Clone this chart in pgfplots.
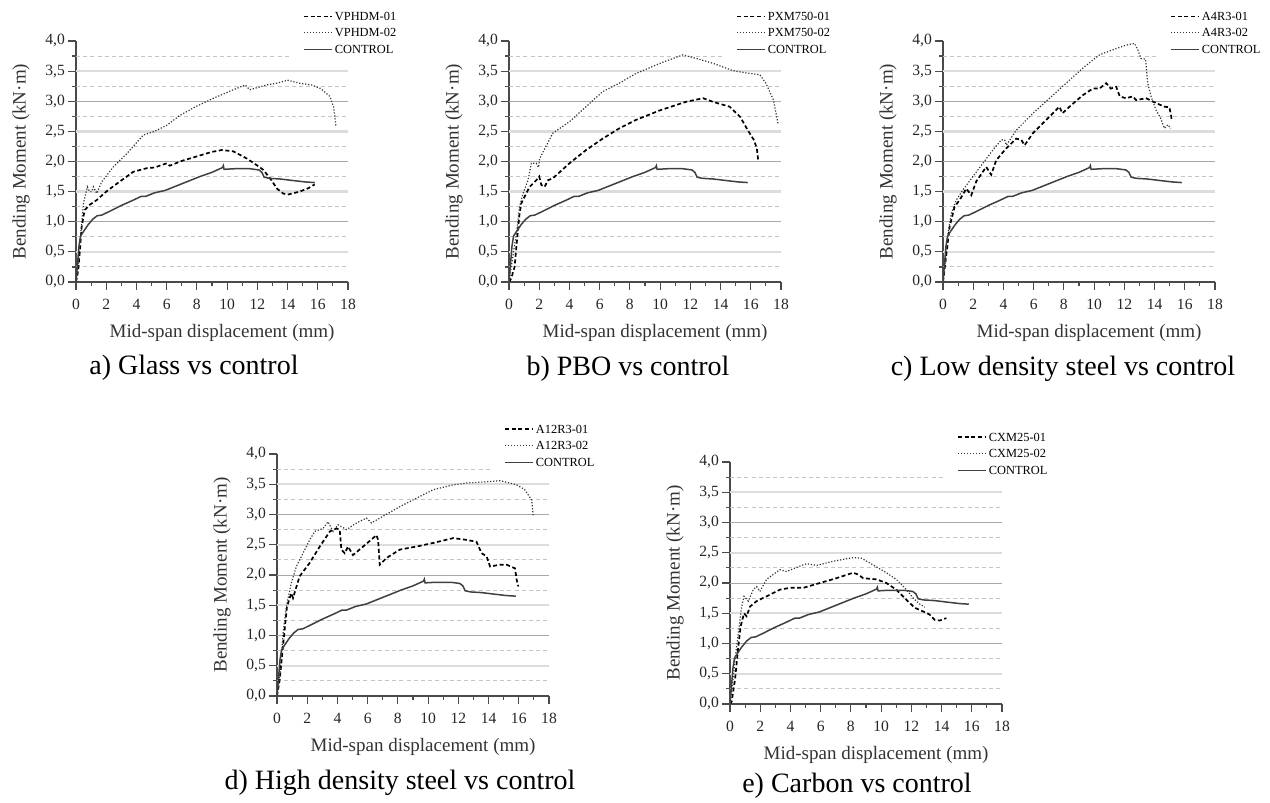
\documentclass[border=0pt]{standalone}
\usepackage{fontspec}
\setmainfont{Liberation Serif}
\usepackage{pgfplots}
\usepackage{pgfplotstable}
\pgfplotsset{compat=1.18}

\definecolor{axisgray}{HTML}{4A4A4A}
\definecolor{gridlight}{HTML}{DCDCDC}
\definecolor{griddark}{HTML}{A8A8A8}
\definecolor{griddash}{HTML}{C4C4C4}

% control beam, same curve in every panel
\pgfplotstableread{
x y
0 0
0.1 0.3
0.2 0.6
0.3 0.76
0.5 0.84
0.8 0.95
1.1 1.04
1.4 1.1
1.7 1.11
2.2 1.17
3.0 1.27
3.8 1.36
4.3 1.42
4.6 1.42
5.2 1.48
5.9 1.52
6.5 1.58
7.3 1.66
8.2 1.75
9.0 1.82
9.7 1.90
9.75 1.93
9.8 1.87
10.5 1.88
11.5 1.88
12.1 1.86
12.3 1.82
12.45 1.74
12.8 1.72
13.5 1.71
14.5 1.68
15.2 1.66
15.8 1.65
}\controldata

\newcommand{\panelgrid}{%
  \pgfplotsinvokeforeach{0.25,0.75,1.25,1.75,2.25,2.75,3.25}{%
    \draw[griddash, line width=0.5pt, dash pattern=on 2pt off 1.6pt] (axis cs:0,##1) -- (axis cs:18,##1);}%
  \draw[griddash, line width=0.5pt, dash pattern=on 2pt off 1.6pt] (axis cs:0,3.75) -- (axis cs:14.2,3.75);%
  \pgfplotsinvokeforeach{0.5,1.5,2.5,3.5}{%
    \draw[gridlight, line width=1.2pt] (axis cs:0,##1) -- (axis cs:18,##1);}%
  \pgfplotsinvokeforeach{1,2,3}{%
    \draw[griddark, line width=0.5pt] (axis cs:0,##1) -- (axis cs:18,##1);}%
}

\pgfplotsset{
  panel/.style={
    scale only axis, width=136pt, height=120.5pt,
    xmin=0, xmax=18, ymin=0, ymax=4,
    axis lines*=left,
    axis line style={axisgray, line width=0.6pt},
    xtick={0,2,4,6,8,10,12,14,16,18}, minor x tick num=1,
    ytick={0,0.5,1,1.5,2,2.5,3,3.5,4}, minor y tick num=1,
    tick align=outside, major tick length=4pt, minor tick length=2pt,
    tick style={axisgray, line width=0.6pt},
    /pgf/number format/assume math mode=true,
    yticklabel style={/pgf/number format/use comma, /pgf/number format/fixed,
      /pgf/number format/fixed zerofill, /pgf/number format/precision=1, xshift=2pt},
    tick label style={font=\fontsize{7.8}{8}\selectfont, black!85},
    xticklabel style={yshift=-1pt},
    label style={font=\fontsize{9.5}{11}\selectfont, black!80},
    xlabel={Mid-span displacement (mm)},
    ylabel={Bending Moment (kN·m)},
    xlabel style={at={(axis description cs:0.537,-0.21)}, anchor=center},
    ylabel style={at={(axis description cs:-0.202,0.5)}, anchor=center},
    legend style={at={(axis description cs:0.834,1.138)}, anchor=north west,
      draw=none, fill=none, font=\fontsize{6.2}{7}\selectfont,
      row sep=0pt, inner sep=0pt,
      nodes={inner sep=0.5pt, text height=5.5pt, text depth=1.75pt},
      /tikz/every odd column/.append style={column sep=0.5pt}},
    legend cell align=left,
    legend image code/.code={\draw[##1] (0pt,0pt) -- (14pt,0pt);},
  },
  s1/.style={black, line width=0.85pt, dash pattern=on 2pt off 1.3pt},
  s2/.style={black!80, line width=0.6pt, dash pattern=on 0.6pt off 0.9pt},
  sc/.style={black!75, line width=0.75pt},
}

\begin{document}
\begin{tikzpicture}
\useasboundingbox (0pt,0pt) rectangle (635pt,401.5pt);

% a) glass
\begin{axis}[panel, at={(38pt,260.5pt)}, anchor=south west]
\panelgrid
\addplot[s1] coordinates {(0,0)(0.15,0.2)(0.25,0.5)(0.37,0.9)(0.5,1.1)(0.6,1.2)(0.9,1.28)(1.37,1.36)(2.0,1.5)(2.8,1.65)(3.8,1.83)(4.7,1.89)(5.2,1.9)(6.0,1.97)(6.2,1.93)(7.0,2.01)(8.2,2.1)(9.0,2.16)(9.65,2.19)(10.4,2.17)(11.3,2.05)(11.9,1.95)(12.4,1.86)(12.9,1.7)(13.3,1.55)(13.7,1.47)(14.0,1.45)(14.8,1.5)(15.4,1.56)(15.8,1.62)};
\addplot[s2] coordinates {(0,0)(0.15,0.3)(0.3,0.75)(0.49,1.3)(0.75,1.58)(0.9,1.5)(1.04,1.5)(1.15,1.58)(1.37,1.47)(1.7,1.66)(2.47,1.91)(3.36,2.13)(4.46,2.44)(5.2,2.5)(6.0,2.6)(6.9,2.77)(8.0,2.92)(9.1,3.05)(10.4,3.19)(11.2,3.27)(11.5,3.19)(12.6,3.27)(13.3,3.3)(14.0,3.35)(14.8,3.3)(15.6,3.27)(16.2,3.21)(16.8,3.08)(17.05,2.9)(17.15,2.7)(17.2,2.58)};
\addplot[sc] table {\controldata};
\legend{VPHDM-01,VPHDM-02,CONTROL}
\end{axis}

% b) PBO
\begin{axis}[panel, at={(254.5pt,260.5pt)}, anchor=south west]
\panelgrid
\addplot[s1] coordinates {(0,0)(0.15,0.06)(0.37,0.25)(0.53,0.7)(0.7,1.14)(0.82,1.31)(1.04,1.42)(1.37,1.58)(1.81,1.69)(2.0,1.75)(2.14,1.61)(2.36,1.58)(2.58,1.69)(2.9,1.72)(4.0,1.97)(5.1,2.19)(6.2,2.38)(7.3,2.55)(8.4,2.69)(10.0,2.85)(11.7,2.99)(12.85,3.05)(13.5,2.99)(14.6,2.91)(15.3,2.74)(15.8,2.52)(16.2,2.36)(16.4,2.22)(16.5,2.0)};
\addplot[s2] coordinates {(0,0)(0.15,0.25)(0.3,0.5)(0.49,0.8)(0.7,1.25)(0.93,1.47)(1.26,1.69)(1.48,1.97)(1.81,1.97)(1.95,1.9)(2.03,2.05)(2.9,2.47)(4.0,2.66)(5.1,2.91)(6.2,3.16)(7.3,3.3)(8.4,3.46)(10.0,3.63)(11.5,3.77)(12.4,3.71)(13.5,3.63)(14.8,3.51)(15.7,3.47)(16.6,3.44)(17.0,3.3)(17.5,3.02)(17.8,2.63)};
\addplot[sc] table {\controldata};
\legend{PXM750-01,PXM750-02,CONTROL}
\end{axis}

% c) low density steel
\begin{axis}[panel, at={(471.5pt,260.5pt)}, anchor=south west]
\panelgrid
\addplot[s1] coordinates {(0,0)(0.18,0.37)(0.44,0.92)(0.77,1.25)(1.1,1.36)(1.54,1.55)(1.87,1.44)(2.2,1.67)(2.86,1.91)(3.19,1.78)(3.52,2.02)(4.19,2.22)(4.85,2.38)(5.18,2.36)(5.4,2.27)(5.95,2.47)(6.83,2.69)(7.7,2.91)(7.9,2.8)(8.37,2.91)(9.25,3.1)(9.91,3.21)(10.35,3.21)(10.8,3.3)(11.1,3.21)(11.46,3.24)(11.7,3.08)(12.1,3.05)(12.56,3.08)(12.78,3.02)(13.44,3.05)(14.1,2.97)(14.65,2.91)(14.98,2.9)(15.09,2.77)(15.13,2.69)};
\addplot[s2] coordinates {(0,0)(0.11,0.25)(0.33,0.81)(0.55,1.14)(0.88,1.36)(1.32,1.53)(1.98,1.75)(2.64,1.97)(3.3,2.19)(3.86,2.36)(4.08,2.36)(4.19,2.27)(4.85,2.52)(5.95,2.8)(7.05,3.05)(8.15,3.3)(9.25,3.55)(10.35,3.77)(11.2,3.85)(12.1,3.93)(12.67,3.96)(12.9,3.85)(13.1,3.71)(13.4,3.7)(13.55,3.3)(13.77,3.08)(14.1,2.85)(14.4,2.72)(14.65,2.55)(14.87,2.61)(15.09,2.55)};
\addplot[sc] table {\controldata};
\legend{A4R3-01,A4R3-02,CONTROL}
\end{axis}

% d) high density steel
\begin{axis}[panel, height=121pt, at={(138.5pt,53.5pt)}, anchor=south west]
\panelgrid
\addplot[s1] coordinates {(0,0)(0.18,0.27)(0.44,0.93)(0.66,1.48)(0.95,1.7)(1.06,1.62)(1.5,1.98)(2.16,2.2)(2.83,2.47)(3.5,2.72)(3.93,2.77)(4.15,2.75)(4.26,2.42)(4.48,2.36)(4.7,2.47)(5.03,2.33)(5.7,2.47)(6.36,2.61)(6.58,2.66)(6.69,2.58)(6.8,2.17)(7.24,2.28)(8.13,2.42)(9.23,2.47)(10.34,2.53)(11.66,2.61)(12.54,2.58)(13.2,2.55)(13.54,2.36)(13.87,2.31)(14.1,2.14)(14.75,2.17)(15.2,2.17)(15.75,2.11)(15.86,1.92)(15.97,1.81)};
\addplot[s2] coordinates {(0,0)(0.18,0.32)(0.4,1.04)(0.62,1.48)(0.95,1.87)(1.28,2.14)(1.72,2.36)(2.16,2.58)(2.5,2.72)(3.05,2.77)(3.38,2.88)(3.71,2.72)(4.04,2.83)(4.6,2.75)(5.26,2.86)(5.92,2.94)(6.25,2.86)(6.8,2.94)(8.13,3.13)(9.23,3.27)(10.34,3.41)(11.66,3.49)(12.54,3.52)(13.87,3.54)(14.75,3.56)(15.86,3.49)(16.4,3.41)(16.85,3.24)(16.96,2.97)};
\addplot[sc] table {\controldata};
\legend{A12R3-01,A12R3-02,CONTROL}
\end{axis}

% e) carbon
\begin{axis}[panel, height=121pt, at={(365pt,49.5pt)}, anchor=south west]
\panelgrid
\addplot[s1] coordinates {(0,0)(0.11,0.04)(0.33,0.4)(0.55,0.95)(0.7,1.28)(0.93,1.5)(1.1,1.45)(1.32,1.61)(1.76,1.7)(2.42,1.78)(3.3,1.89)(3.97,1.92)(4.85,1.92)(5.95,2.0)(7.05,2.08)(8.15,2.17)(8.48,2.14)(8.81,2.08)(9.69,2.06)(10.35,2.0)(11.0,1.89)(11.68,1.72)(12.23,1.59)(12.78,1.53)(13.2,1.48)(13.55,1.39)(13.88,1.38)(14.32,1.42)};
\addplot[s2] coordinates {(0,0)(0.11,0.18)(0.33,0.73)(0.55,1.17)(0.77,1.61)(0.93,1.78)(1.21,1.7)(1.54,1.89)(1.76,1.94)(1.98,1.86)(2.42,2.06)(3.3,2.22)(3.75,2.19)(4.63,2.28)(5.07,2.32)(5.73,2.29)(6.83,2.36)(8.15,2.42)(8.7,2.41)(9.25,2.33)(10.35,2.17)(11.0,2.06)(11.68,1.89)(12.12,1.75)(12.56,1.65)(12.9,1.6)};
\addplot[sc] table {\controldata};
\legend{CXM25-01,CXM25-02,CONTROL}
\end{axis}

\begin{scope}[every node/.style={font=\fontsize{14}{16}\selectfont, anchor=base, inner sep=0pt}]
\node at (97pt,214pt) {a) Glass vs control};
\node at (314pt,213.5pt) {b) PBO vs control};
\node at (531.5pt,213.5pt) {c) Low density steel vs control};
\node at (200pt,6.5pt) {d) High density steel vs control};
\node at (428.5pt,5pt) {e) Carbon vs control};
\end{scope}
\end{tikzpicture}
\end{document}
